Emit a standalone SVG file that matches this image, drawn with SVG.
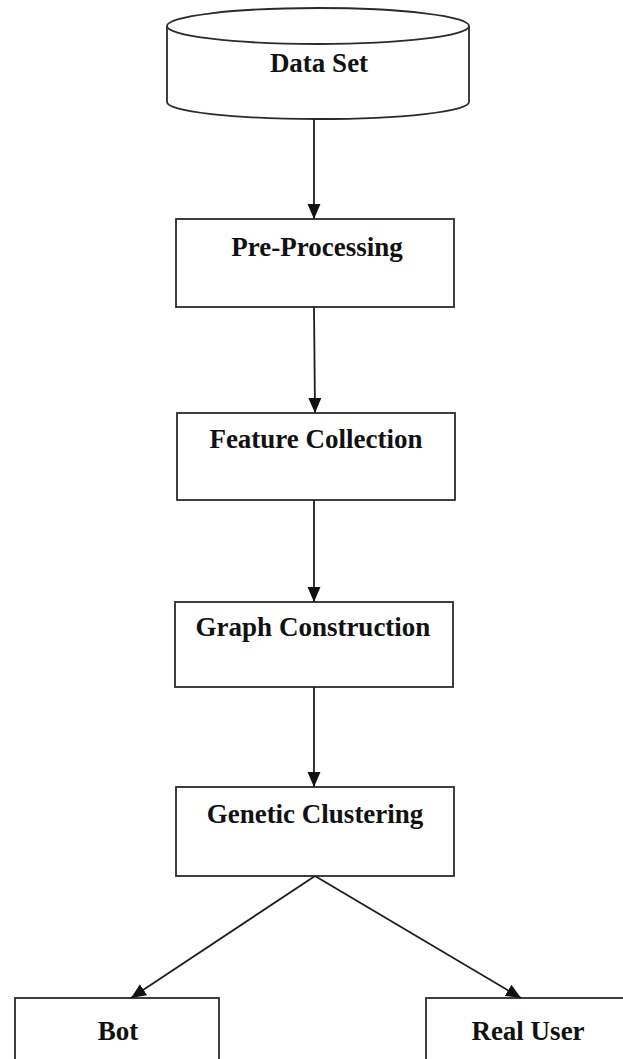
<svg xmlns="http://www.w3.org/2000/svg" width="623" height="1059" viewBox="0 0 623 1059">
  <style>
    .box { fill: #ffffff; stroke: #2b2b2b; stroke-width: 1.8; }
    .lbl { font-family: "Liberation Serif", "Times New Roman", serif; font-weight: bold; font-size: 27px; fill: #111111; text-anchor: middle; }
    .edge { fill: none; stroke: #1e1e1e; stroke-width: 1.8; }
  </style>
  <defs>
    <marker id="arrow" markerUnits="userSpaceOnUse" markerWidth="15" markerHeight="14" refX="15" refY="7" orient="auto">
      <path d="M0,0.5 L15,7 L0,13.5 Z" fill="#111111"/>
    </marker>
  </defs>
  <rect width="623" height="1059" fill="#ffffff"/>

  <!-- database cylinder -->
  <g id="data-set">
    <path class="box" d="M167,26 L167,102 A151,17 0 0 0 469,102 L469,26"/>
    <ellipse class="box" cx="318" cy="26" rx="151" ry="18"/>
    <text class="lbl" x="319" y="72">Data Set</text>
  </g>

  <g id="pre-processing">
    <rect class="box" x="176" y="219" width="278" height="88"/>
    <text class="lbl" x="317" y="256">Pre-Processing</text>
  </g>

  <g id="feature-collection">
    <rect class="box" x="177" y="413" width="278" height="87"/>
    <text class="lbl" x="316" y="448">Feature Collection</text>
  </g>

  <g id="graph-construction">
    <rect class="box" x="175" y="602" width="278" height="85"/>
    <text class="lbl" x="313" y="636">Graph Construction</text>
  </g>

  <g id="genetic-clustering">
    <rect class="box" x="176" y="787" width="278" height="89"/>
    <text class="lbl" x="315" y="823">Genetic Clustering</text>
  </g>

  <g id="bot">
    <rect class="box" x="15" y="998" width="204" height="80"/>
    <text class="lbl" x="118" y="1040">Bot</text>
  </g>

  <g id="real-user">
    <rect class="box" x="426" y="998" width="220" height="80"/>
    <text class="lbl" x="528" y="1040">Real User</text>
  </g>

  <g id="connectors">
    <line class="edge" x1="314" y1="119" x2="314" y2="219" marker-end="url(#arrow)"/>
    <line class="edge" x1="314" y1="307" x2="315" y2="413" marker-end="url(#arrow)"/>
    <line class="edge" x1="314" y1="500" x2="314" y2="602" marker-end="url(#arrow)"/>
    <line class="edge" x1="314" y1="687" x2="314" y2="787" marker-end="url(#arrow)"/>
    <line class="edge" x1="315" y1="876" x2="131" y2="998" marker-end="url(#arrow)"/>
    <line class="edge" x1="315" y1="876" x2="521" y2="998" marker-end="url(#arrow)"/>
  </g>
</svg>
